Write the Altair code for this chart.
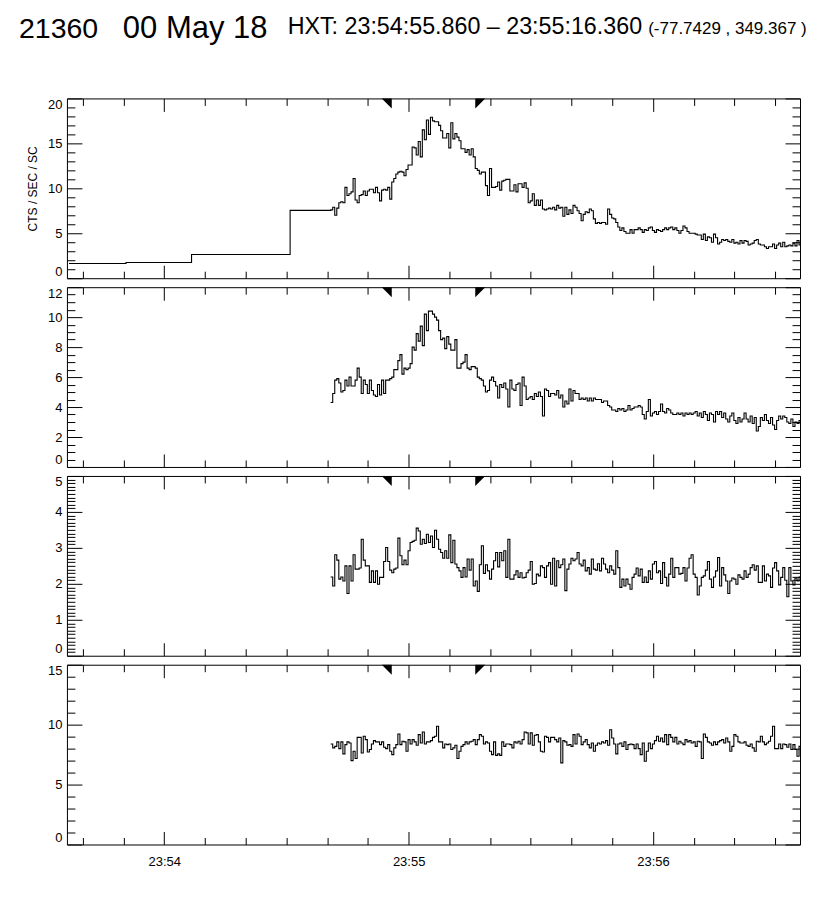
import altair as alt
import pandas as pd

# ---------------- data (time = seconds after 23:53:00) ----------------
X_DOMAIN = [36.1, 216.1]
X_MAJOR = [60, 120, 180]
X_LABELS = ["23:54", "23:55", "23:56"]
X_MINOR = [40, 50, 60, 70, 80, 90, 100, 110, 120, 130, 140, 150, 160, 170, 180, 190, 200, 210]
FINE_START = 100.86          # 23:54:40.86
BIN = 0.5                    # seconds per fine bin
MARKERS = [115.86, 136.36]   # 23:54:55.860 and 23:55:16.360

P1_COARSE_T = [36.6, 50.6, 66.7, 90.9]
P1_COARSE_V = [1.64, 1.75, 2.64, 7.55]
P1_FINE = [
    7.6, 7.9, 7.0, 7.8, 8.4, 8.5, 8.4, 10.1, 9.2, 9.4,
    9.6, 11.1, 8.7, 8.4, 9.2, 9.3, 9.7, 9.2, 9.7, 9.9,
    9.9, 9.5, 10.1, 9.5, 8.6, 9.8, 9.9, 9.8, 10.1, 8.8,
    10.7, 11.1, 11.6, 11.8, 11.9, 11.8, 11.4, 12.1, 12.6, 12.6,
    14.6, 14.5, 13.7, 15.2, 13.5, 16.5, 15.4, 17.6, 16.0, 17.9,
    17.5, 17.4, 17.4, 17.0, 16.4, 15.6, 15.6, 16.1, 14.5, 17.3,
    15.5, 16.1, 15.7, 15.3, 14.4, 14.4, 14.0, 14.3, 13.7, 14.4,
    13.5, 12.2, 12.0, 11.6, 11.8, 11.8, 10.3, 9.2, 12.2, 10.1,
    10.1, 10.2, 10.7, 9.8, 10.8, 10.9, 11.0, 11.0, 9.7, 9.7,
    10.4, 9.6, 10.5, 10.5, 10.1, 10.6, 10.0, 8.4, 8.6, 9.4,
    8.1, 8.7, 8.1, 8.7, 7.7, 7.6, 7.7, 7.8, 7.7, 7.9,
    7.6, 8.1, 7.8, 7.9, 6.9, 7.9, 7.1, 7.6, 7.2, 8.1,
    7.9, 7.5, 7.2, 6.4, 7.1, 7.4, 7.3, 7.7, 7.5, 6.6,
    6.1, 6.2, 6.1, 6.2, 6.2, 6.0, 7.7, 7.1, 6.7, 6.6,
    6.2, 5.7, 5.3, 5.6, 5.2, 5.0, 5.0, 5.4, 5.0, 5.4,
    5.4, 5.6, 5.4, 5.1, 5.4, 5.3, 5.6, 5.7, 5.3, 5.1,
    5.4, 5.3, 5.2, 5.4, 5.6, 5.4, 5.6, 5.7, 5.4, 5.6,
    5.3, 5.0, 5.3, 5.8, 5.6, 5.2, 5.0, 5.0, 5.0, 4.9,
    4.8, 4.8, 4.3, 4.9, 4.2, 4.6, 4.5, 4.0, 4.9, 4.5,
    3.8, 4.0, 4.3, 4.2, 4.3, 4.1, 4.0, 4.3, 3.9, 4.0,
    3.8, 4.2, 3.9, 4.2, 4.1, 3.7, 3.8, 3.9, 4.2, 4.3,
    3.8, 3.7, 3.7, 3.5, 3.3, 3.5, 3.5, 3.8, 3.3, 3.7,
    3.9, 3.5, 4.0, 3.5, 3.6, 3.7, 3.6, 3.9, 3.6, 4.2, 3.7,
]

P2_FINE = [
    4.3, 4.9, 5.8, 5.9, 5.6, 5.0, 5.1, 5.8, 5.4,
    6.0, 5.4, 5.4, 5.8, 6.6, 6.0, 4.9, 5.8, 5.5, 4.9,
    5.8, 5.1, 4.8, 4.7, 5.5, 4.8, 5.8, 4.9, 5.8, 5.8,
    5.9, 6.0, 6.5, 6.5, 7.1, 7.5, 6.2, 6.6, 6.5, 6.6,
    6.9, 8.0, 7.8, 8.9, 8.4, 9.4, 8.1, 10.2, 9.1, 10.4,
    10.4, 10.2, 10.0, 9.8, 9.1, 8.5, 8.6, 7.9, 8.7, 8.2,
    7.8, 7.8, 8.5, 6.6, 6.6, 6.9, 7.0, 7.5, 6.6, 6.5,
    6.7, 6.7, 6.6, 6.0, 5.9, 5.8, 5.4, 5.0, 5.1, 5.8,
    6.0, 5.7, 5.4, 4.6, 5.5, 5.3, 5.6, 5.2, 4.0, 5.8,
    5.2, 5.1, 5.5, 5.6, 4.1, 6.0, 5.4, 4.5, 4.6, 4.7,
    4.5, 4.9, 4.7, 5.0, 4.7, 3.4, 5.2, 5.1, 4.7, 4.9,
    4.9, 4.8, 5.1, 4.6, 4.8, 4.0, 4.4, 4.2, 5.2, 4.4,
    5.1, 4.9, 4.9, 4.5, 4.6, 4.5, 4.6, 4.4, 4.6,
    4.4, 4.6, 4.5, 4.5, 4.5, 4.3, 4.4, 4.4, 4.1, 4.0,
    3.8, 3.8, 3.7, 3.9, 3.8, 3.9, 3.7, 3.8, 4.1,
    3.8, 3.9, 4.0, 4.0, 4.1, 4.0, 3.5, 3.2, 3.7, 4.5,
    3.4, 3.6, 3.7, 3.5, 3.7, 4.2, 3.7, 3.6, 3.9, 3.8,
    3.6, 3.5, 3.5, 3.6, 3.5, 3.6, 3.4, 3.6, 3.5,
    3.6, 3.5, 3.6, 3.7, 3.4, 3.6, 3.3, 3.7, 3.5,
    3.1, 3.6, 3.5, 3.0, 3.7, 3.5, 3.7, 3.3, 3.6, 3.2,
    3.0, 3.4, 3.6, 3.1, 2.9, 3.3, 3.0, 3.2, 3.6, 3.2,
    3.0, 3.4, 2.9, 3.3, 2.4, 2.7, 3.3, 3.1, 3.5, 3.1,
    2.9, 3.3, 2.8, 2.5, 3.1, 3.4, 3.2, 3.4, 3.3, 3.0,
    2.9, 3.2, 2.7, 3.0, 2.9, 3.1,
]

P3_FINE = [
    2.19, 1.94, 2.81, 2.66, 2.13, 2.19, 2.08, 2.5, 1.73, 2.5,
    2.08, 2.81, 2.41, 2.41, 2.44, 3.24, 2.66, 2.5, 2.5, 2.04,
    2.36, 2.04, 2.36, 1.99, 2.18, 2.18, 2.62, 3.01, 2.62, 2.38,
    2.31, 2.41, 2.44, 3.27, 2.78, 2.53, 2.66, 2.53, 2.92, 3.15,
    3.18, 3.21, 3.55, 3.47, 3.1, 3.24, 3.12, 3.38, 3.15, 3.33,
    3.01, 3.49, 3.24, 2.96, 2.87, 2.71, 2.92, 2.71, 3.36, 2.59,
    3.21, 2.55, 2.45, 2.36, 2.18, 2.45, 2.19, 2.69, 2.38, 2.69,
    1.94, 2.08, 1.79, 2.53, 3.06, 2.29, 2.53, 2.36, 2.13, 2.41,
    2.64, 2.87, 2.47, 2.87, 2.64, 2.92, 2.18, 3.24, 2.13, 2.13,
    2.25, 2.36, 2.18, 2.31, 2.16, 2.18, 2.31, 2.38, 2.62,
    1.99, 2.01, 2.27, 2.22, 2.5, 2.45, 2.18, 2.5, 2.59, 1.99,
    2.71, 1.94, 2.64, 2.45, 2.53, 2.69, 1.81, 2.41, 2.55, 2.71,
    2.64, 2.69, 2.87, 2.55, 2.5, 2.66, 2.36, 2.45, 2.27, 2.69,
    2.41, 2.38, 2.56, 2.36, 2.71, 2.55, 2.41, 2.31, 2.5, 2.38,
    2.27, 2.92, 2.45, 1.9, 2.13, 1.94, 2.13, 1.99, 1.85, 2.18,
    2.27, 2.44, 2.22, 2.41, 2.04, 2.19, 2.04, 2.36, 2.13,
    2.55, 2.62, 2.31, 2.36, 2.01, 2.59, 2.18, 1.94, 2.27, 2.71,
    2.18, 2.45, 2.45, 2.27, 2.29, 2.45, 2.08, 2.44, 2.71, 2.81,
    2.27, 2.18, 1.69, 1.94, 2.18, 2.22, 2.38, 2.62, 2.13, 1.9,
    2.19, 2.36, 2.73, 1.94, 2.45, 2.25, 2.08, 1.73, 2.08, 2.16,
    2.13, 1.99, 2.25, 2.18, 2.13, 2.36, 2.18, 2.27, 2.45,
    2.53, 2.38, 2.5, 2.04, 2.04, 2.5, 2.08, 2.27, 2.22, 1.9,
    2.44, 2.59, 2.36, 1.97, 2.18, 2.45, 2.1, 1.64, 2.45, 2.08,
    1.97, 2.16, 2.08, 2.19,
]

P4_FINE = [
    8.39, 8.06, 8.19, 8.56, 8.0, 8.56, 7.56, 8.33, 8.56, 8.47,
    7.0, 7.78, 7.17, 8.94, 8.94, 7.64, 9.03, 8.75, 7.72, 7.92,
    8.39, 8.67, 8.56, 8.56, 8.33, 8.56, 8.11, 8.0, 8.33, 7.78,
    7.5, 8.06, 8.33, 9.22, 8.33, 8.61, 8.56, 7.78, 8.75, 8.39,
    8.75, 8.56, 8.28, 9.17, 8.47, 9.39, 8.39, 8.56, 8.56,
    8.67, 8.94, 9.03, 9.86, 8.56, 8.56, 8.06, 8.39, 8.33, 8.39,
    7.92, 8.06, 8.28, 7.17, 7.78, 8.19, 8.33, 8.56, 8.39, 8.56,
    8.61, 8.75, 8.33, 8.75, 9.17, 9.03, 8.39, 8.56, 8.47, 7.78,
    7.5, 8.56, 7.44, 7.56, 7.44, 8.56, 8.19, 8.39, 8.39, 8.33,
    8.06, 8.56, 8.47, 8.61, 8.39, 8.75, 9.39, 9.31, 8.39, 9.31,
    8.28, 9.11, 9.17, 8.56, 7.78, 7.72, 9.03, 8.94, 8.56, 8.94,
    8.94, 8.75, 8.56, 8.89, 6.81, 8.67, 8.56, 8.28, 8.33,
    8.19, 9.17, 8.39, 9.22, 9.03, 8.33, 8.56, 8.75, 8.33, 8.06,
    8.47, 7.78, 8.28, 8.47, 8.39, 8.56, 8.47, 8.67, 8.28, 9.58,
    8.89, 8.39, 7.56, 8.39, 8.47, 8.19, 8.56, 7.92, 8.33, 8.39,
    8.33, 8.0, 8.39, 8.0, 7.5, 8.47, 6.94, 7.78, 8.47,
    8.0, 8.39, 8.67, 9.03, 8.61, 8.89, 8.56, 9.17, 8.33, 9.17,
    8.94, 8.56, 8.94, 8.39, 8.61, 8.47, 8.33, 8.75, 8.56, 8.67,
    8.47, 8.56, 8.19, 8.61, 8.56, 7.17, 9.22, 8.94, 8.56, 8.47,
    8.28, 8.56, 8.33, 8.56, 8.67, 8.75, 8.47, 8.89, 8.56,
    7.78, 8.19, 9.17, 9.03, 8.56, 8.47, 8.47, 8.56, 8.28, 8.19,
    8.39, 8.06, 7.78, 8.61, 8.56, 9.03, 8.56, 8.33, 8.47, 8.61,
    9.03, 9.86, 8.0, 8.0, 8.39, 8.0, 8.39, 8.33, 8.11, 8.39,
    7.92, 8.33, 7.92, 7.36, 8.19,
]

PANELS = [
    {"coarse_t": P1_COARSE_T, "coarse_v": P1_COARSE_V, "fine": P1_FINE,
     "ymax": 20, "major": 5, "minor": 1, "title": "CTS / SEC / SC"},
    {"coarse_t": [], "coarse_v": [], "fine": P2_FINE, "ymax": 12, "major": 2, "minor": 0.5, "title": ""},
    {"coarse_t": [], "coarse_v": [], "fine": P3_FINE, "ymax": 5, "major": 1, "minor": 0.1, "title": ""},
    {"coarse_t": [], "coarse_v": [], "fine": P4_FINE, "ymax": 15, "major": 5, "minor": 1, "title": ""},
]

TITLE_MAIN = ["21360", "00 May 18"]
TITLE_HXT = "HXT: 23:54:55.860 \u2013 23:55:16.360"
TITLE_POS = "(-77.7429 , 349.367 )"

# ---------------- styling ----------------
W, H = 734, 180
FONT = "Liberation Sans"
TRI_LEFT = "M -2 0 L 0 0 L 0 2 Z"    # vertical side on the right
TRI_RIGHT = "M 0 0 L 2 0 L 0 2 Z"    # vertical side on the left

x_label_expr = " : ".join(
    f"datum.value === {v} ? '{lab}'" for v, lab in zip(X_MAJOR, X_LABELS)
) + " : ''"
x_tick_size = {"condition": {"test": "datum.value % 60 === 0", "value": 13}, "value": 7}


def y_tick_values(ymax, step):
    n = int(round(ymax / step))
    return [round(i * step, 4) for i in range(n + 1)]


def build_panel(i, cfg):
    last = i == len(PANELS) - 1
    n = len(cfg["fine"])
    ts = list(cfg["coarse_t"]) + [FINE_START + BIN * k for k in range(n)] + [FINE_START + BIN * n]
    vs = list(cfg["coarse_v"]) + list(cfg["fine"]) + [cfg["fine"][-1]]
    df = pd.DataFrame({"t": ts, "v": vs})

    xs = alt.Scale(domain=X_DOMAIN, nice=False, zero=False)
    ys = alt.Scale(domain=[0, cfg["ymax"]], nice=False, zero=True)
    maj = cfg["major"]
    y_major = y_tick_values(cfg["ymax"], maj)
    y_all = y_tick_values(cfg["ymax"], cfg["minor"])
    y_tick_size = {"condition": {"test": f"abs(datum.value / {maj} - round(datum.value / {maj})) < 0.000001",
                                 "value": 15}, "value": 8}

    if last:
        x_lab_axis = alt.Axis(orient="bottom", values=X_MAJOR, labelExpr=x_label_expr, ticks=False,
                              domain=False, grid=False, title=None, labelPadding=11, labelFontSize=13,
                              labelFont=FONT, labelColor="black")
    else:
        x_lab_axis = None

    y_kwargs = dict(orient="left", values=y_major, ticks=False, domain=False, grid=False,
                    labelFlush=True, labelPadding=5, labelFontSize=13, labelFont=FONT,
                    labelColor="black", format="d")
    if cfg["title"]:
        y_lab_axis = alt.Axis(title=cfg["title"], titleFont=FONT, titleFontSize=12,
                              titleFontWeight="normal", titleColor="black", titleX=-34, titleY=H / 2,
                              titleAngle=270, titleAlign="center", titleBaseline="middle", **y_kwargs)
    else:
        y_lab_axis = alt.Axis(title=None, **y_kwargs)

    line = alt.Chart(df).mark_line(interpolate="step-after", color="black", strokeWidth=1.1,
                                   clip=True).encode(
        x=alt.X("t:Q", scale=xs, axis=x_lab_axis),
        y=alt.Y("v:Q", scale=ys, axis=y_lab_axis),
    )

    tick_common = dict(labels=False, domain=False, grid=False, title=None,
                       tickColor="black", tickWidth=1)

    m1 = alt.Chart(pd.DataFrame({"t": [MARKERS[0]], "top": [cfg["ymax"]]})).mark_point(
        shape=TRI_LEFT, size=100, filled=True, color="black", opacity=1
    ).encode(
        x=alt.X("t:Q", scale=xs, axis=alt.Axis(orient="top", offset=-H, values=X_MINOR,
                                                tickSize=x_tick_size, **tick_common)),
        y=alt.Y("top:Q", scale=ys, axis=alt.Axis(orient="right", offset=-W, values=y_all,
                                                  tickSize=y_tick_size, **tick_common)),
    )
    m2 = alt.Chart(pd.DataFrame({"t": [MARKERS[1]], "top": [cfg["ymax"]]})).mark_point(
        shape=TRI_RIGHT, size=100, filled=True, color="black", opacity=1
    ).encode(
        x=alt.X("t:Q", scale=xs, axis=alt.Axis(orient="bottom", offset=-H, values=X_MINOR,
                                                tickSize=x_tick_size, **tick_common)),
        y=alt.Y("top:Q", scale=ys, axis=alt.Axis(orient="left", offset=-W, values=y_all,
                                                  tickSize=y_tick_size, **tick_common)),
    )

    layers = [line, m1, m2]
    if i == 0:
        one = pd.DataFrame({"k": [0]})
        layers += [
            alt.Chart(one).mark_text(text=TITLE_MAIN[0], align="left", baseline="alphabetic",
                                     fontSize=28.5, font=FONT, color="black").encode(
                x=alt.value(-48), y=alt.value(-61)),
            alt.Chart(one).mark_text(text=TITLE_MAIN[1], align="left", baseline="alphabetic",
                                     fontSize=31, font=FONT, color="black").encode(
                x=alt.value(56), y=alt.value(-61)),
            alt.Chart(one).mark_text(text=TITLE_HXT, align="left", baseline="alphabetic",
                                     fontSize=23.3, font=FONT, color="black").encode(
                x=alt.value(221), y=alt.value(-65)),
            alt.Chart(one).mark_text(text=TITLE_POS, align="left", baseline="alphabetic",
                                     fontSize=17, font=FONT, color="black").encode(
                x=alt.value(582), y=alt.value(-65)),
        ]
    return alt.layer(*layers).resolve_axis(x="independent", y="independent").properties(
        width=W, height=H)


chart = alt.vconcat(*[build_panel(i, c) for i, c in enumerate(PANELS)], spacing=7).properties(
    padding={"left": 10, "top": 3, "right": 0, "bottom": 5},
    background="white",
).configure_view(stroke="black", strokeWidth=1)

chart.save("out.html", embed_options={"renderer": "svg", "actions": False})
